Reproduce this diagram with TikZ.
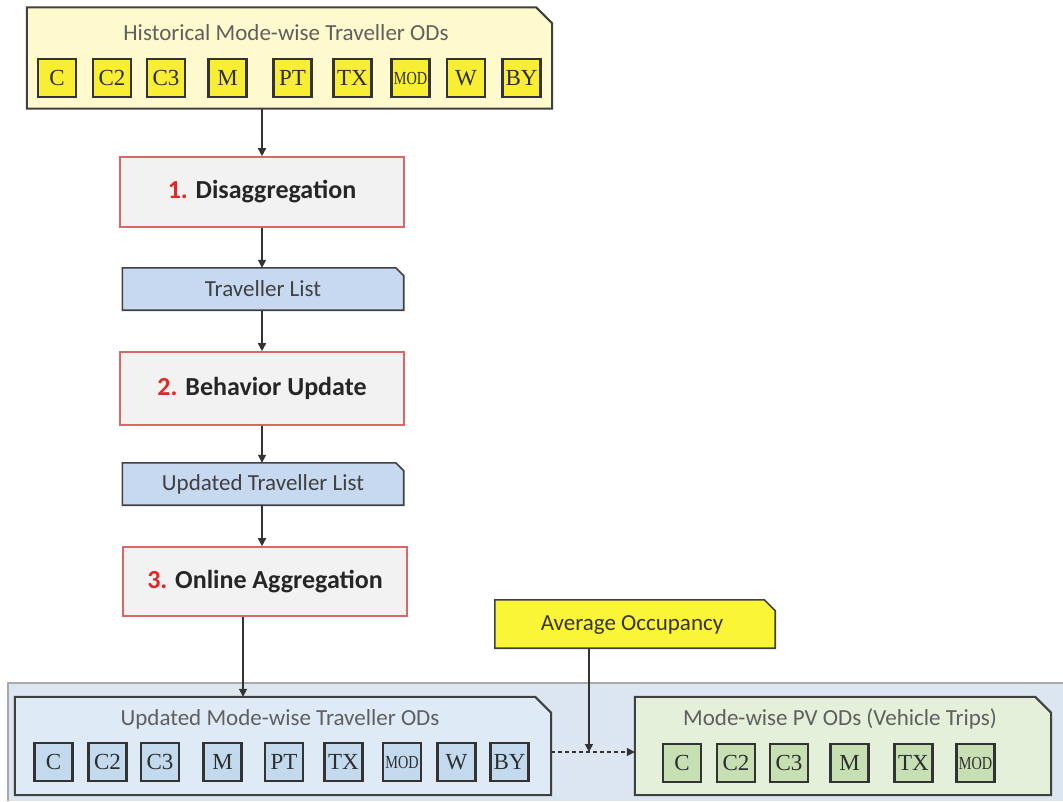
\documentclass[tikz,border=0pt]{standalone}
\usepackage{fontspec}
\usepackage{graphicx}
\setmainfont{Carlito}
\newfontfamily\tnr{Liberation Serif}
\usetikzlibrary{arrows.meta,backgrounds}
\definecolor{histfill}{RGB}{255,250,205}
\definecolor{ymode}{RGB}{248,238,52}
\definecolor{occfill}{RGB}{250,245,55}
\definecolor{procfill}{RGB}{242,242,242}
\definecolor{procborder}{RGB}{214,104,104}
\definecolor{numred}{RGB}{224,40,40}
\definecolor{listfill}{RGB}{198,217,241}
\definecolor{panelbg}{RGB}{220,230,240}
\definecolor{panelline}{RGB}{165,168,172}
\definecolor{updfill}{RGB}{222,234,246}
\definecolor{bmode}{RGB}{194,217,238}
\definecolor{pvfill}{RGB}{228,240,217}
\definecolor{gmode}{RGB}{198,224,180}
\definecolor{edge}{RGB}{64,64,64}
\definecolor{titlegray}{RGB}{95,95,95}
\definecolor{darktext}{RGB}{38,38,38}
\newcommand\modtxt{\scalebox{0.62}[0.8]{MOD}}
\newcommand\chamfer[3]{%
  \path[#1] (#2.south west) -- (#2.north west) -- ([xshift=-#3]#2.north east)
    -- ([yshift=-#3]#2.north east) -- (#2.south east) -- cycle;}
\begin{document}
\begin{tikzpicture}[x=1pt,y=-1pt,
  cont/.style={draw=none,inner sep=0pt,rectangle},
  contline/.style={draw=edge,line width=2pt,line join=miter},
  modebox/.style={draw=black!80,line width=2.6pt,minimum width=38pt,minimum height=38pt,
    inner sep=0pt,font=\tnr\fontsize{23}{23}\selectfont,text=black!82},
  ymodebox/.style={modebox,fill=ymode},
  bmodebox/.style={modebox,fill=bmode},
  gmodebox/.style={modebox,fill=gmode},
  titletext/.style={font=\fontsize{23}{27}\selectfont,text=titlegray,inner sep=0pt},
  proc/.style={draw=procborder,line width=1.6pt,fill=procfill,inner sep=0pt,
    font=\bfseries\fontsize{26}{30}\selectfont,text=darktext},
  listtext/.style={font=\fontsize{23}{27}\selectfont,text=edge,inner sep=0pt},
  arr/.style={draw=black!80,line width=1.5pt,-{Triangle[length=8pt,width=8pt]}}
]
\useasboundingbox (0,0) rectangle (1063,801);

% containers (geometry only)
\node[cont,minimum width=525pt,minimum height=101pt] (hist) at (289.5,58) {};
\node[cont,minimum width=1055pt,minimum height=118pt] (panel) at (535.5,742) {};
\node[cont,minimum width=536pt,minimum height=98pt] (upd) at (283,746) {};
\node[cont,minimum width=416pt,minimum height=98pt] (pv) at (843,746) {};
\node[cont,minimum width=281pt,minimum height=42pt] (tl) at (263,289) {};
\node[cont,minimum width=281pt,minimum height=42pt] (utl) at (263,484) {};
\node[cont,minimum width=280pt,minimum height=48pt] (occ) at (635,624) {};

\begin{scope}[on background layer]
  \fill[panelbg] (panel.north west) rectangle (panel.south east);
  \draw[panelline,line width=2pt] (panel.south west) -- (panel.north west) -- (panel.north east);
  \chamfer{contline,fill=histfill}{hist}{16pt}
  \chamfer{contline,fill=updfill}{upd}{16pt}
  \chamfer{contline,fill=pvfill}{pv}{16pt}
  \chamfer{contline,fill=listfill,line width=1.6pt}{tl}{8pt}
  \chamfer{contline,fill=listfill,line width=1.6pt}{utl}{8pt}
  \chamfer{contline,fill=occfill,line width=1.6pt}{occ}{11pt}
\end{scope}

% titles
\node[titletext] (histT) at (286,33) {Historical Mode-wise Traveller ODs};
\node[titletext] (updT) at (280,719) {Updated Mode-wise Traveller ODs};
\node[titletext] (pvT) at (840,719) {Mode-wise PV ODs (Vehicle Trips)};
\node[listtext] (tlT) at (tl.center) {Traveller List};
\node[listtext] (utlT) at (utl.center) {Updated Traveller List};
\node[listtext,text=black!80!olive] (occT) at (632,625) {Average Occupancy};

% mode boxes
\foreach \n/\t/\x in {hC/C/57,hC2/C2/112,hC3/C3/166,hM/M/227.5,hPT/PT/292.5,hTX/TX/352.5,hMOD/\modtxt/410.5,hW/W/466,hBY/BY/521.5}
  \node[ymodebox] (\n) at (\x,78) {\t};
\foreach \n/\t/\x in {uC/C/53.5,uC2/C2/107.5,uC3/C3/160,uM/M/222.5,uPT/PT/284,uTX/TX/343.5,uMOD/\modtxt/402,uW/W/456.5,uBY/BY/509.5}
  \node[bmodebox] (\n) at (\x,762) {\t};
\foreach \n/\t/\x in {gC/C/682,gC2/C2/736,gC3/C3/789,gM/M/849.5,gTX/TX/913.5,gMOD/\modtxt/975.5}
  \node[gmodebox] (\n) at (\x,763) {\t};

% process boxes
\node[proc,minimum width=284pt,minimum height=70pt] (dis) at (262,192) {{\color{numred}1.} Disaggregation};
\node[proc,minimum width=284pt,minimum height=73pt] (bu) at (262,388.5) {{\color{numred}2.} Behavior Update};
\node[proc,minimum width=284pt,minimum height=69pt] (oa) at (265,581.5) {{\color{numred}3.} Online Aggregation};

% connectors
\draw[arr] (dis.north |- hist.south) -- (dis.north);
\draw[arr] (dis.south) -- (dis.south |- tl.north);
\draw[arr] (dis.south |- tl.south) -- (bu.north);
\draw[arr] (bu.south) -- (bu.south |- utl.north);
\draw[arr] (bu.south |- utl.south) -- (bu.south |- oa.north);
\coordinate (oaj) at (243,0);
\draw[arr] (oaj |- oa.south) -- (oaj |- upd.north);
\coordinate (join) at (589,752);
\draw[arr] (join |- occ.south) -- (join);
\draw[arr,dashed,dash pattern=on 4pt off 3pt] (upd.east |- join) -- (pv.west |- join);
\end{tikzpicture}
\end{document}
